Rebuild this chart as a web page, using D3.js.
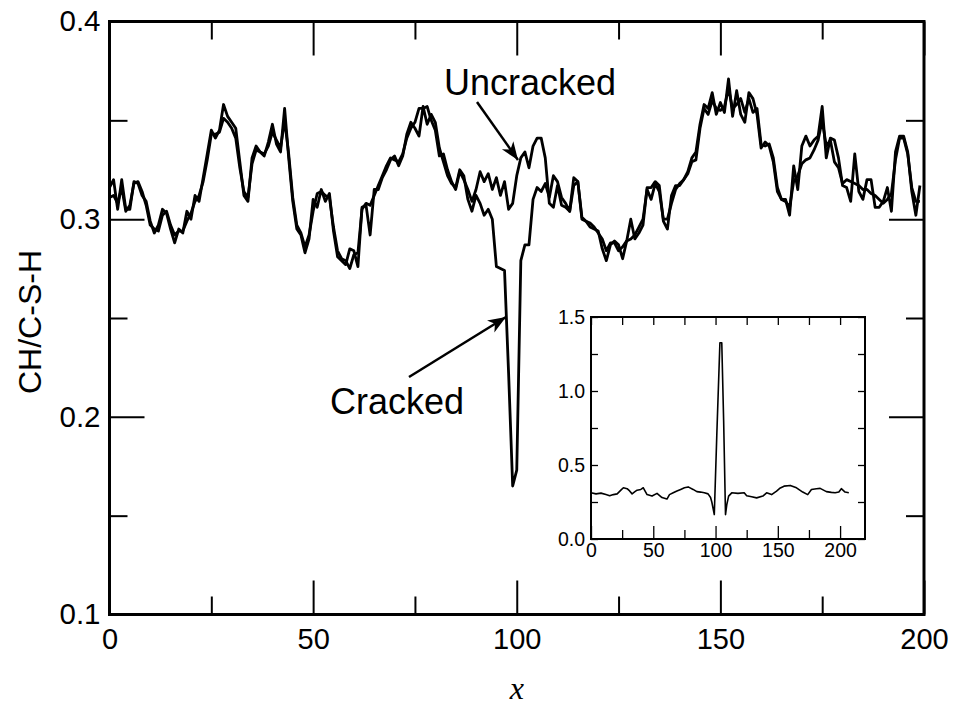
<!DOCTYPE html>
<html>
<head>
<meta charset="utf-8">
<script src="https://cdn.jsdelivr.net/npm/d3@7"></script>
<style>
  body { margin: 0; background: #fff; }
  text { font-family: "Liberation Sans", Arial, sans-serif; }
</style>
</head>
<body>
<div id="chart"></div>
<script>
// main plot data, one value per step of x (0..199)
const cracked = [
  0.316, 0.320, 0.305, 0.320, 0.305, 0.305, 0.319, 0.318, 0.312, 0.309,
  0.299, 0.293, 0.297, 0.305, 0.303, 0.295, 0.288, 0.295, 0.293, 0.304,
  0.300, 0.312, 0.309, 0.321, 0.333, 0.345, 0.341, 0.345, 0.358, 0.352,
  0.349, 0.346, 0.329, 0.312, 0.309, 0.331, 0.337, 0.334, 0.332, 0.339,
  0.348, 0.338, 0.334, 0.356, 0.331, 0.309, 0.295, 0.292, 0.283, 0.290,
  0.310, 0.306, 0.315, 0.309, 0.313, 0.294, 0.281, 0.279, 0.277, 0.285,
  0.284, 0.276, 0.306, 0.307, 0.292, 0.315, 0.315, 0.321, 0.325, 0.330,
  0.332, 0.327, 0.332, 0.343, 0.349, 0.346, 0.342, 0.357, 0.348, 0.353,
  0.349, 0.336, 0.329, 0.322, 0.318, 0.316, 0.325, 0.322, 0.310, 0.304,
  0.312, 0.308, 0.302, 0.305, 0.300, 0.276, 0.275, 0.274, 0.222, 0.165,
  0.173, 0.279, 0.287, 0.287, 0.310, 0.316, 0.314, 0.318, 0.311, 0.322,
  0.319, 0.311, 0.308, 0.304, 0.321, 0.319, 0.300, 0.299, 0.296, 0.295,
  0.294, 0.285, 0.279, 0.287, 0.289, 0.287, 0.280, 0.289, 0.300, 0.290,
  0.293, 0.297, 0.316, 0.316, 0.319, 0.317, 0.299, 0.295, 0.312, 0.317,
  0.317, 0.320, 0.324, 0.331, 0.334, 0.348, 0.358, 0.356, 0.364, 0.353,
  0.359, 0.354, 0.371, 0.352, 0.365, 0.353, 0.349, 0.364, 0.361, 0.353,
  0.336, 0.339, 0.337, 0.329, 0.314, 0.310, 0.310, 0.302, 0.327, 0.315,
  0.337, 0.342, 0.337, 0.340, 0.342, 0.357, 0.331, 0.341, 0.340, 0.331,
  0.317, 0.316, 0.309, 0.333, 0.314, 0.310, 0.320, 0.320, 0.306, 0.306,
  0.309, 0.316, 0.304, 0.334, 0.342, 0.342, 0.334, 0.314, 0.302, 0.317
];
const uncracked = [
  0.311, 0.312, 0.308, 0.316, 0.304, 0.307, 0.318, 0.319, 0.314, 0.307,
  0.297, 0.295, 0.294, 0.302, 0.304, 0.297, 0.292, 0.294, 0.294, 0.299,
  0.303, 0.309, 0.312, 0.319, 0.330, 0.343, 0.343, 0.344, 0.351, 0.349,
  0.346, 0.341, 0.326, 0.314, 0.311, 0.328, 0.335, 0.334, 0.333, 0.337,
  0.344, 0.340, 0.336, 0.350, 0.333, 0.311, 0.297, 0.293, 0.286, 0.292,
  0.304, 0.313, 0.314, 0.312, 0.311, 0.296, 0.284, 0.280, 0.279, 0.275,
  0.282, 0.283, 0.305, 0.308, 0.307, 0.312, 0.317, 0.322, 0.327, 0.331,
  0.330, 0.329, 0.333, 0.341, 0.346, 0.349, 0.356, 0.356, 0.357, 0.350,
  0.345, 0.332, 0.333, 0.325, 0.319, 0.315, 0.324, 0.320, 0.315, 0.309,
  0.315, 0.324, 0.319, 0.323, 0.315, 0.321, 0.312, 0.319, 0.305, 0.308,
  0.322, 0.331, 0.334, 0.326, 0.337, 0.341, 0.341, 0.331, 0.308, 0.306,
  0.317, 0.307, 0.306, 0.304, 0.317, 0.319, 0.301, 0.299, 0.298, 0.296,
  0.293, 0.290, 0.284, 0.288, 0.288, 0.284, 0.286, 0.289, 0.290, 0.292,
  0.296, 0.300, 0.315, 0.310, 0.318, 0.314, 0.300, 0.300, 0.308, 0.315,
  0.318, 0.320, 0.323, 0.329, 0.330, 0.346, 0.356, 0.353, 0.360, 0.356,
  0.355, 0.357, 0.366, 0.356, 0.358, 0.361, 0.354, 0.361, 0.354, 0.356,
  0.338, 0.337, 0.338, 0.331, 0.316, 0.310, 0.309, 0.306, 0.319, 0.322,
  0.328, 0.330, 0.331, 0.335, 0.340, 0.350, 0.337, 0.340, 0.329, 0.326,
  0.318, 0.320, 0.319, 0.318, 0.317, 0.315, 0.315, 0.313, 0.312, 0.310,
  0.308, 0.310, 0.313, 0.330, 0.341, 0.341, 0.333, 0.316, 0.309, 0.309
];

// inset data
const insetX = [0, 4, 8, 12, 15, 18, 21, 24, 26, 29, 31, 33, 35, 37, 40, 42, 45, 49, 53, 57,
  61, 63, 66, 69, 72, 75, 78, 82, 85, 88, 91, 94, 96, 97, 99, 101, 103.5, 105, 106.5, 108, 109, 110.5,
  113, 118, 123, 125, 129, 133, 138, 141, 145, 149, 152, 155, 160, 165, 170, 174, 177, 181, 184,
  189, 193, 196, 199, 201, 204, 207];
const insetY = [0.312, 0.305, 0.310, 0.300, 0.292, 0.300, 0.305, 0.330, 0.346, 0.340, 0.325, 0.305,
  0.318, 0.330, 0.335, 0.346, 0.300, 0.290, 0.308, 0.280, 0.270, 0.300, 0.312, 0.324, 0.335, 0.346,
  0.352, 0.335, 0.320, 0.317, 0.312, 0.305, 0.280, 0.250, 0.165, 0.700, 1.326, 1.326, 0.800, 0.165,
  0.230, 0.290, 0.312, 0.308, 0.312, 0.292, 0.285, 0.278, 0.290, 0.312, 0.300, 0.324, 0.345, 0.357,
  0.362, 0.346, 0.317, 0.300, 0.335, 0.340, 0.342, 0.320, 0.315, 0.312, 0.318, 0.340, 0.317, 0.312];

// ticks
const xMajor = [0, 50, 100, 150, 200];
const xMinor = [25, 75, 125, 175];
const yMajor = [0.1, 0.2, 0.3, 0.4];
const yMinor = [0.15, 0.25, 0.35];
const insetXMajor = [0, 50, 100, 150, 200];
const insetXMinor = [25, 75, 125, 175];
const insetYMajor = [0, 0.5, 1.0, 1.5];
const insetYMinor = [0.25, 0.75, 1.25];

const W = 958, H = 713;
const svg = d3.select("#chart").append("svg")
    .attr("width", W)
    .attr("height", H);

// main scales
const x = d3.scaleLinear().domain([0, 200]).range([109.5, 924]);
const y = d3.scaleLinear().domain([0.1, 0.4]).range([614.5, 21.5]);

// tick helper: inward ticks, optional labels
function addAxis(g, axis, size, fontSize, labels, fmt, sw) {
    g.call(axis.tickSize(-size).tickFormat(labels ? fmt : ""));
    g.select(".domain").remove();
    g.selectAll(".tick line").attr("stroke", "#000").attr("stroke-width", sw || 2);
    g.selectAll(".tick text")
        .attr("fill", "#000")
        .style("font-size", fontSize + "px")
        .style("font-family", "'Liberation Sans', Arial, sans-serif");
}

const fx = d3.format("d"), fy = d3.format(".1f");
const atBottom = "translate(0," + y(0.1) + ")", atTop = "translate(0," + y(0.4) + ")";
const atLeft = "translate(" + x(0) + ",0)", atRight = "translate(" + x(200) + ",0)";

addAxis(svg.append("g").attr("transform", atBottom), d3.axisBottom(x).tickValues(xMajor).tickPadding(14), 34, 29, true, fx);
addAxis(svg.append("g").attr("transform", atBottom), d3.axisBottom(x).tickValues(xMinor), 18, 29, false);
addAxis(svg.append("g").attr("transform", atTop), d3.axisTop(x).tickValues(xMajor), 34, 29, false);
addAxis(svg.append("g").attr("transform", atTop), d3.axisTop(x).tickValues(xMinor), 18, 29, false);
addAxis(svg.append("g").attr("transform", atLeft), d3.axisLeft(y).tickValues(yMajor).tickPadding(9), 35, 29.5, true, fy);
addAxis(svg.append("g").attr("transform", atLeft), d3.axisLeft(y).tickValues(yMinor), 18, 29, false);
addAxis(svg.append("g").attr("transform", atRight), d3.axisRight(y).tickValues(yMajor), 35, 29, false);
addAxis(svg.append("g").attr("transform", atRight), d3.axisRight(y).tickValues(yMinor), 18, 29, false);

// lines
const line = d3.line().x((d, i) => x(i)).y(d => y(d));
svg.append("path").datum(uncracked)
    .attr("d", line).attr("fill", "none")
    .attr("stroke", "#000").attr("stroke-width", 2.8).attr("stroke-linejoin", "round");
svg.append("path").datum(cracked)
    .attr("d", line).attr("fill", "none")
    .attr("stroke", "#000").attr("stroke-width", 2.8).attr("stroke-linejoin", "round");

// frame
svg.append("rect")
    .attr("x", x(0)).attr("y", y(0.4))
    .attr("width", x(200) - x(0)).attr("height", y(0.1) - y(0.4))
    .attr("fill", "none").attr("stroke", "#000").attr("stroke-width", 3);

// axis titles
svg.append("text")
    .attr("transform", "translate(41,322) rotate(-90)")
    .attr("text-anchor", "middle")
    .style("font-size", "32px")
    .text("CH/C-S-H");
svg.append("text")
    .attr("x", (x(0) + x(200)) / 2).attr("y", 699)
    .attr("text-anchor", "middle")
    .style("font-family", "'Liberation Serif', 'DejaVu Serif', serif")
    .style("font-style", "italic")
    .style("font-size", "32px")
    .text("x");

// annotations
const defs = svg.append("defs");
defs.append("marker")
    .attr("id", "head")
    .attr("viewBox", "-18 -8 20 16")
    .attr("markerWidth", 20).attr("markerHeight", 16)
    .attr("markerUnits", "userSpaceOnUse")
    .attr("refX", 0).attr("refY", 0)
    .attr("orient", "auto")
    .append("path")
    .attr("d", "M0,0 L-18,-7 L-13,0 L-18,7 Z")
    .attr("fill", "#000");

svg.append("text").attr("x", 444).attr("y", 95)
    .style("font-size", "36px").text("Uncracked");
svg.append("line")
    .attr("x1", 477).attr("y1", 102).attr("x2", 518).attr("y2", 160)
    .attr("stroke", "#000").attr("stroke-width", 2.5)
    .attr("marker-end", "url(#head)");

svg.append("text").attr("x", 330).attr("y", 414)
    .style("font-size", "36px").text("Cracked");
svg.append("line")
    .attr("x1", 409).attr("y1", 377).attr("x2", 506).attr("y2", 317)
    .attr("stroke", "#000").attr("stroke-width", 2.5)
    .attr("marker-end", "url(#head)");

// inset
const ix = d3.scaleLinear().domain([0, 220]).range([591, 865]);
const iy = d3.scaleLinear().domain([0, 1.5]).range([539, 317]);

svg.append("rect")
    .attr("x", ix(0)).attr("y", iy(1.5))
    .attr("width", ix(220) - ix(0)).attr("height", iy(0) - iy(1.5))
    .attr("fill", "#fff");

const ib = "translate(0," + iy(0) + ")", it = "translate(0," + iy(1.5) + ")";
const il = "translate(" + ix(0) + ",0)", ir = "translate(" + ix(220) + ",0)";
addAxis(svg.append("g").attr("transform", ib), d3.axisBottom(ix).tickValues(insetXMajor).tickPadding(4), 13, 19.5, true, fx, 1.3);
addAxis(svg.append("g").attr("transform", ib), d3.axisBottom(ix).tickValues(insetXMinor), 9, 19.5, false, null, 1.3);
addAxis(svg.append("g").attr("transform", it), d3.axisTop(ix).tickValues(insetXMajor.concat(insetXMinor)), 8, 19.5, false, null, 1.3);
addAxis(svg.append("g").attr("transform", il), d3.axisLeft(iy).tickValues(insetYMajor).tickPadding(6), 7, 19.5, true, fy, 1.3);
addAxis(svg.append("g").attr("transform", il), d3.axisLeft(iy).tickValues(insetYMinor), 7, 19.5, false, null, 1.3);
addAxis(svg.append("g").attr("transform", ir), d3.axisRight(iy).tickValues(insetYMajor.concat(insetYMinor)), 7, 19.5, false, null, 1.3);

const iline = d3.line().x((d, i) => ix(insetX[i])).y(d => iy(d));
svg.append("path").datum(insetY)
    .attr("d", iline).attr("fill", "none")
    .attr("stroke", "#000").attr("stroke-width", 1.6).attr("stroke-linejoin", "round");

svg.append("rect")
    .attr("x", ix(0)).attr("y", iy(1.5))
    .attr("width", ix(220) - ix(0)).attr("height", iy(0) - iy(1.5))
    .attr("fill", "none").attr("stroke", "#000").attr("stroke-width", 2);
</script>
</body>
</html>
